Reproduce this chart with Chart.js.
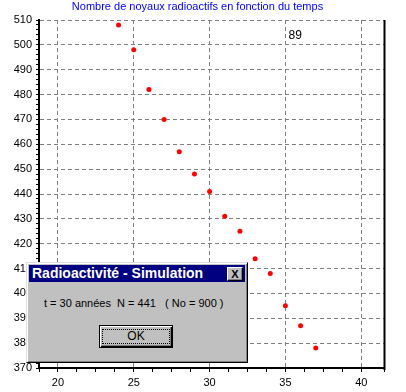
<!DOCTYPE html>
<html>
<head>
<meta charset="utf-8">
<script src="https://cdn.jsdelivr.net/npm/chart.js@4.4.0/dist/chart.umd.min.js"></script>
<style>
  body { margin: 0; background: #fff; }
  #wrap { position: relative; width: 406px; height: 392px; font-family: Arial, "Liberation Sans", sans-serif; }
  #c { position: absolute; left: 0; top: 0; }
  .abs { position: absolute; box-sizing: border-box; }
  #dlg { left: 26px; top: 262px; width: 222px; height: 101px; background: #c0c0c0;
         border: 1px solid; border-color: #dfdfdf #000 #000 #dfdfdf;
         box-shadow: inset 1px 1px #fff, inset -1px -1px #808080; }
  #bar { left: 29px; top: 265px; width: 216px; height: 17px; background: #000080; }
  #barText { left: 32px; top: 265px; line-height: 17px; font-weight: bold; font-size: 14px; color: #fff; white-space: pre; }
  #close { left: 227px; top: 267px; width: 16px; height: 14px; background: #c0c0c0;
           border: 1px solid; border-color: #fff #000 #000 #fff; box-shadow: inset -1px -1px #808080;
           font-size: 11px; font-weight: bold; line-height: 12px; text-align: center; color: #000; }
  #msg { left: 44px; top: 296px; font-size: 11px; line-height: 14px; white-space: pre; color: #000; }
  #ok { left: 99px; top: 325px; width: 74px; height: 23px; border: 1px solid #000; background: #c0c0c0;
        box-shadow: inset 1px 1px #fff, inset -1px -1px #000, inset -2px -2px #808080; }
  #okFocus { left: 102px; top: 329px; width: 68px; height: 15px; border: 1px dotted #000;
             font-size: 12px; line-height: 13px; text-align: center; color: #000; }
</style>
</head>
<body>
<div id="wrap">
  <canvas id="c" width="406" height="392"></canvas>
  <div class="abs" id="dlg"></div>
  <div class="abs" id="bar"></div>
  <div class="abs" id="barText">Radioactivité - Simulation</div>
  <div class="abs" id="close">X</div>
  <div class="abs" id="msg">t = 30 années  N = 441   ( No = 900 )</div>
  <div class="abs" id="ok"></div>
  <div class="abs" id="okFocus">OK</div>
</div>
<script>
// temps (années) et nombre de noyaux restants
const times = [24, 25, 26, 27, 28, 29, 30, 31, 32, 33, 34, 35, 36, 37];
const nuclei = [508, 498, 482, 470, 457, 448, 441, 431, 425, 414, 408, 395, 387, 378];

const chartTitle = 'Nombre de noyaux radioactifs en fonction du temps';
const countLabel = '89';

const FONT = 'Arial, "Liberation Sans", sans-serif';

const isMultiple = (v, m) => Math.abs(v / m - Math.round(v / m)) < 1e-9;

// bord droit + étiquette "89"
const extras = {
  id: 'extras',
  afterDraw(chart) {
    const { ctx, chartArea, scales } = chart;
    ctx.save();
    ctx.strokeStyle = '#000';
    ctx.lineWidth = 2;
    ctx.beginPath();
    ctx.moveTo(chartArea.right + 0.5, chartArea.top);
    ctx.lineTo(chartArea.right + 0.5, chartArea.bottom + 2);
    ctx.stroke();
    ctx.fillStyle = '#000';
    ctx.font = '12px ' + FONT;
    ctx.textBaseline = 'middle';
    ctx.fillText(countLabel, scales.x.getPixelForValue(35.2), scales.y.getPixelForValue(503.6));
    ctx.restore();
  }
};

new Chart(document.getElementById('c'), {
  type: 'scatter',
  data: {
    datasets: [{
      data: times.map((t, i) => ({ x: t, y: nuclei[i] })),
      backgroundColor: '#ff0000',
      borderWidth: 0,
      pointRadius: 2.5,
    }]
  },
  options: {
    responsive: false,
    animation: false,
    events: [],
    layout: { padding: { left: 11, right: 22 } },
    plugins: {
      legend: { display: false },
      tooltip: { enabled: false },
      title: {
        display: true,
        text: chartTitle,
        color: '#0000ff',
        font: { family: FONT, size: 11, weight: 'normal' },
        padding: { top: 0.5, bottom: 6.3 },
      },
    },
    scales: {
      x: {
        type: 'linear',
        min: 18.75,
        max: 41.5,
        afterFit: s => { s.height = 24; },
        border: { display: true, color: '#000', width: 2, dash: [4, 3] },
        grid: {
          color: c => (c.tick && isMultiple(c.tick.value, 5)) ? '#808080' : 'transparent',
          lineWidth: 1,
          tickColor: '#000',
          tickWidth: 1,
          tickLength: 4,
          tickBorderDash: [],
        },
        ticks: {
          stepSize: 1.25,
          autoSkip: false,
          maxRotation: 0,
          maxTicksLimit: 200,
          padding: 4,
          color: '#000',
          font: { family: FONT, size: 11 },
          callback: v => isMultiple(v, 5) ? v : '',
        },
      },
      y: {
        min: 370,
        max: 510,
        afterFit: s => { s.width = 28; },
        border: { display: true, color: '#000', width: 2, dash: [4, 3] },
        grid: {
          color: c => (c.tick && isMultiple(c.tick.value, 10)) ? '#808080' : 'transparent',
          lineWidth: 1,
          tickColor: '#000',
          tickWidth: 1,
          tickLength: 3,
          tickBorderDash: [],
        },
        ticks: {
          stepSize: 2,
          autoSkip: false,
          maxTicksLimit: 200,
          padding: 4,
          color: '#000',
          font: { family: FONT, size: 11 },
          callback: v => isMultiple(v, 10) ? v : '',
        },
      },
    },
  },
  plugins: [extras],
});
</script>
</body>
</html>
